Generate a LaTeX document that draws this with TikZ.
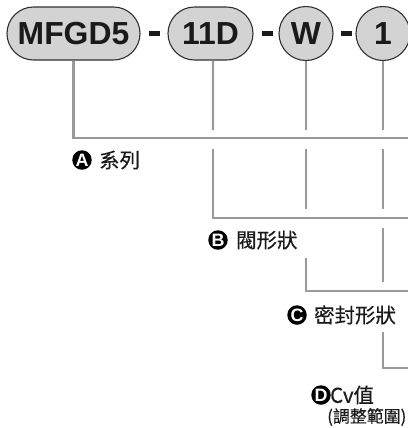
\documentclass[tikz,border=0pt]{standalone}
\usepackage{fontspec}
\setmainfont{Liberation Sans}
\newfontfamily\cjk[FakeBold=0.4]{Noto Sans CJK TC}
\definecolor{pillgray}{HTML}{D3D3D3}
\definecolor{linegray}{HTML}{9A9A9A}
\definecolor{inkdark}{HTML}{1A1A1A}
\begin{document}
\begin{tikzpicture}[x=1bp,y=-1bp,
  pill/.style={draw=inkdark!90, line width=1.1bp, fill=pillgray, text=inkdark,
    rounded corners=26.5bp, minimum height=53bp, inner sep=0pt,
    font=\fontsize{32}{32}\selectfont\bfseries},
  ball/.style={circle, draw=inkdark!90, line width=1.1bp, fill=pillgray, text=inkdark,
    minimum size=54bp, inner sep=0pt, font=\fontsize{32}{32}\selectfont\bfseries},
  dashbar/.style={fill=inkdark, minimum width=11bp, minimum height=5bp, inner sep=0pt},
  conn/.style={draw=linegray, line width=2.3bp},
  badge/.style={shape=circle, fill=black, text=white, inner sep=0pt,
    minimum size=19.5bp,
    font=\fontsize{18}{18}\selectfont\bfseries},
  lbl/.style={anchor=west, inner sep=0pt, text=inkdark, font=\cjk\fontsize{20.5}{20.5}\selectfont},
  sublbl/.style={anchor=west, inner sep=0pt, text=inkdark, font=\cjk\fontsize{17}{17}\selectfont}]
\useasboundingbox (0,0) rectangle (408,428);
\clip (0,0) rectangle (408,428);

% code boxes
\node[pill, minimum width=133bp] (p1) at (73.5,33.5) {MFGD5};
\node[dashbar] (m1) at (154.5,33.5) {};
\node[pill, minimum width=85bp] (p2) at (210.5,33.5) {11D};
\node[dashbar] (m2) at (267,33.5) {};
\node[ball] (p3) at (306,33.5) {W};
\node[dashbar] (m3) at (346,33.5) {};
\node[ball] (p4) at (383,33.5) {1};

% break points
\coordinate (Aend) at (412,138);
\coordinate (b1) at (213,130);
\coordinate (b2) at (213,149);
\coordinate (Bend) at (412,218);
\coordinate (c1) at (306,130);
\coordinate (c2) at (306,149);
\coordinate (c3) at (306,209);
\coordinate (c4) at (306,258);
\coordinate (Cend) at (412,291);
\coordinate (d1) at (383,130);
\coordinate (d2) at (383,149);
\coordinate (d3) at (383,209);
\coordinate (d4) at (383,228);
\coordinate (d5) at (383,282);
\coordinate (d6) at (383,332);
\coordinate (Dend) at (412,368);

% connectors
\draw[conn] (p1.south) |- (Aend);
\draw[conn] ([xshift=2.5bp]p2.south) -- (b1);
\draw[conn] (b2) |- (Bend);
\draw[conn] (p3.south) -- (c1);
\draw[conn] (c2) -- (c3);
\draw[conn] (c4) |- (Cend);
\draw[conn] (p4.south) -- (d1);
\draw[conn] (d2) -- (d3);
\draw[conn] (d4) -- (d5);
\draw[conn] (d6) |- (Dend);

% labels
\node[badge] (bA) at (82,160) {A};
\node[lbl] (tA) at (99,160) {系列};
\node[badge] (bB) at (218,240) {B};
\node[lbl] (tB) at (236,240) {閥形狀};
\node[badge] (bC) at (297,315) {C};
\node[lbl] (tC) at (314,315) {密封形狀};
\node[badge] (bD) at (321,395) {D};
\node[lbl] (tD) at (330,395) {Cv值};
\node[sublbl] (tD2) at (327,417) {(調整範圍)};
\end{tikzpicture}
\end{document}
